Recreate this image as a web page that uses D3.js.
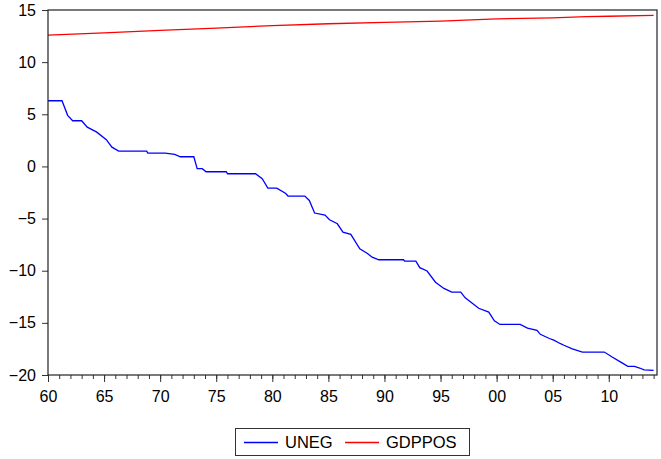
<!DOCTYPE html>
<html>
<head>
<meta charset="utf-8">
<script src="https://cdn.jsdelivr.net/npm/d3@7"></script>
<style>
  body { margin: 0; background: #fff; }
  text { font-family: Arial, "Liberation Sans", sans-serif; fill: #000; }
</style>
</head>
<body>
<div id="chart"></div>
<script>
// values (x in decimal years)
var unegYears = [1960.0, 1961.25, 1961.75, 1962.2, 1963.0, 1963.5, 1964.35, 1965.2, 1965.7, 1966.3,
  1968.8, 1968.9, 1970.45, 1971.3, 1971.8, 1973.0, 1973.3, 1973.75, 1974.1, 1975.9,
  1976.0, 1978.5, 1979.1, 1979.6, 1980.4, 1981.2, 1981.4, 1982.9, 1983.3, 1983.77,
  1984.7, 1985.1, 1985.8, 1986.3, 1987.0, 1987.8, 1988.45, 1988.9, 1989.5, 1991.7,
  1991.8, 1992.8, 1993.15, 1993.8, 1994.55, 1995.3, 1996.0, 1996.8, 1997.2, 1997.8,
  1998.4, 1999.3, 1999.8, 2000.3, 2002.1, 2002.75, 2003.6, 2003.9, 2004.7, 2005.1,
  2005.7, 2006.0, 2006.75, 2007.65, 2009.6, 2010.3, 2011.07, 2011.7, 2012.3, 2012.75,
  2013.15, 2014.0];
var unegValues = [6.3, 6.3, 4.9, 4.38, 4.38, 3.77, 3.29, 2.56, 1.85, 1.47,
  1.47, 1.28, 1.28, 1.15, 0.93, 0.93, -0.22, -0.22, -0.51, -0.51,
  -0.7, -0.7, -1.18, -2.08, -2.08, -2.6, -2.84, -2.84, -3.26, -4.47,
  -4.67, -5.11, -5.5, -6.3, -6.52, -7.9, -8.32, -8.7, -8.95, -8.95,
  -9.08, -9.08, -9.71, -10.03, -11.1, -11.7, -12.05, -12.05, -12.6, -13.1,
  -13.6, -13.97, -14.8, -15.15, -15.15, -15.5, -15.72, -16.1, -16.5, -16.66,
  -17.0, -17.15, -17.5, -17.8, -17.8, -18.27, -18.76, -19.17, -19.17, -19.33,
  -19.5, -19.55];

var gdpYears = [1960, 1965, 1970, 1975, 1980, 1985, 1990, 1995, 2000, 2005, 2008, 2010, 2014];
var gdpValues = [12.6, 12.8, 13.05, 13.27, 13.5, 13.68, 13.82, 13.93, 14.15, 14.25, 14.36, 14.4, 14.48];

var yTicks = [15, 10, 5, 0, -5, -10, -15, -20];
var xMajor = [1960, 1965, 1970, 1975, 1980, 1985, 1990, 1995, 2000, 2005, 2010];
var seriesNames = ["UNEG", "GDPPOS"];
var seriesColors = ["#0000ff", "#ff0000"];

var svgWidth = 661;
var svgHeight = 459;
var margin = { top: 10, right: 4, bottom: 84, left: 48 };
var width = svgWidth - margin.left - margin.right;
var height = svgHeight - margin.top - margin.bottom;

var svg = d3.select("#chart")
  .append("svg")
  .attr("width", svgWidth)
  .attr("height", svgHeight);

var g = svg.append("g")
  .attr("transform", `translate(${margin.left}, ${margin.top})`);

var x = d3.scaleLinear().domain([1960, 2014.3]).range([0, width]);
var y = d3.scaleLinear().domain([-20, 15]).range([height, 0]);

// y axis
var yAxis = g.append("g")
  .call(d3.axisLeft(y).tickValues(yTicks).tickSize(6).tickPadding(6).tickFormat(d3.format("d")));
yAxis.select(".domain").remove();
yAxis.selectAll("line").attr("stroke", "#333");
yAxis.selectAll("text")
  .style("font-size", "16px")
  .style("font-family", "Arial, 'Liberation Sans', sans-serif")
  .attr("fill", "#000");

// x axis: minor yearly ticks and major 5-year ticks
var minorYears = d3.range(1960, 2015);
var xAxisMinor = g.append("g")
  .attr("transform", `translate(0, ${height})`)
  .call(d3.axisBottom(x).tickValues(minorYears).tickSize(4).tickFormat(""));
xAxisMinor.select(".domain").remove();
xAxisMinor.selectAll("line").attr("stroke", "#333");

var xAxis = g.append("g")
  .attr("transform", `translate(0, ${height})`)
  .call(d3.axisBottom(x).tickValues(xMajor).tickSize(7).tickPadding(9)
    .tickFormat(d => d3.format("02d")(d % 100)));
xAxis.select(".domain").remove();
xAxis.selectAll("line").attr("stroke", "#333");
xAxis.selectAll("text")
  .style("font-size", "16px")
  .style("font-family", "Arial, 'Liberation Sans', sans-serif")
  .attr("fill", "#000");

// series
var line = d3.line()
  .x(d => x(d[0]))
  .y(d => y(d[1]));

var unegData = unegYears.map((yr, i) => [yr, unegValues[i]]);
var gdpData = gdpYears.map((yr, i) => [yr, gdpValues[i]]);

g.append("path")
  .datum(unegData)
  .attr("fill", "none")
  .attr("stroke", seriesColors[0])
  .attr("stroke-width", 1.3)
  .attr("d", line);

g.append("path")
  .datum(gdpData)
  .attr("fill", "none")
  .attr("stroke", seriesColors[1])
  .attr("stroke-width", 1.3)
  .attr("d", line);

// frame
g.append("rect")
  .attr("x", 0)
  .attr("y", 0)
  .attr("width", width)
  .attr("height", height)
  .attr("fill", "none")
  .attr("stroke", "#222")
  .attr("stroke-width", 1.2);

// legend
var legend = svg.append("g").attr("transform", "translate(235, 428)");
legend.append("rect")
  .attr("x", 0.5).attr("y", 0.5)
  .attr("width", 234).attr("height", 27)
  .attr("fill", "#fff")
  .attr("stroke", "#333");

var legendX = [9, 110];
seriesNames.forEach(function(name, i) {
  legend.append("line")
    .attr("x1", legendX[i]).attr("x2", legendX[i] + 34)
    .attr("y1", 14.5).attr("y2", 14.5)
    .attr("stroke", seriesColors[i])
    .attr("stroke-width", 1.3);
  legend.append("text")
    .attr("x", legendX[i] + 41)
    .attr("y", 20)
    .style("font-size", "16.5px")
    .text(name);
});
</script>
</body>
</html>
